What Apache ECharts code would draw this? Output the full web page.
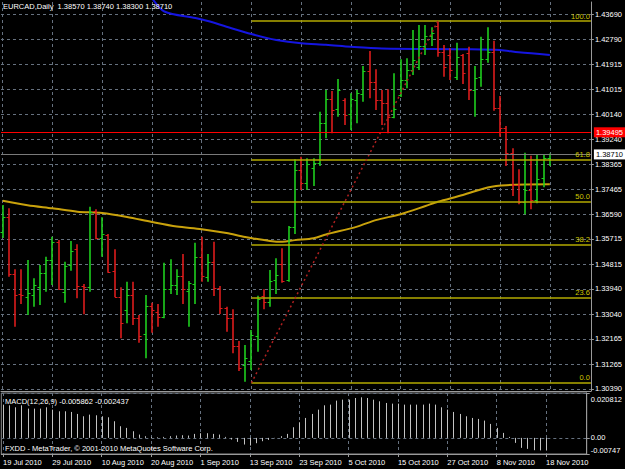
<!DOCTYPE html>
<html>
<head>
<meta charset="utf-8">
<title>EURCAD Daily</title>
<script src="https://cdn.jsdelivr.net/npm/echarts@6/dist/echarts.min.js"></script>
<style>
  html, body { margin: 0; padding: 0; background: #000; }
  #chart { width: 625px; height: 469px; }
</style>
</head>
<body>
<div id="chart"></div>
<script>
// ---- data ----
var symbolName = 'EURCAD,Daily';
var xLabels = ['19 Jul 2010', '29 Jul 2010', '10 Aug 2010', '20 Aug 2010', '1 Sep 2010', '13 Sep 2010',
  '23 Sep 2010', '5 Oct 2010', '15 Oct 2010', '27 Oct 2010', '8 Nov 2010', '18 Nov 2010'];
var xLabelBars = [0, 8, 16, 24, 32, 40, 48, 56, 64, 72, 80, 88];

var priceTicks = [1.30390, 1.31265, 1.32165, 1.33040, 1.33940, 1.34815, 1.35715, 1.36590,
  1.37465, 1.38365, 1.39240, 1.40140, 1.41015, 1.41915, 1.42790, 1.43690];

var opens = [1.35958, 1.36501, 1.34469, 1.33759, 1.33664, 1.33724, 1.34018, 1.34493, 1.34965, 1.35593,
  1.33841, 1.34788, 1.35345, 1.34043, 1.34018, 1.36720, 1.35735, 1.35852, 1.34586, 1.33664,
  1.33192, 1.33724, 1.32919, 1.32341, 1.33344, 1.33132, 1.32954, 1.33926, 1.34078, 1.34398,
  1.33866, 1.34114, 1.35061, 1.34373, 1.34905, 1.33983, 1.33252, 1.32897, 1.31926, 1.31241,
  1.31383, 1.32270, 1.33700, 1.33486, 1.34256, 1.34823, 1.34256, 1.36146, 1.38157, 1.37685,
  1.38217, 1.38416, 1.39835, 1.40665, 1.40310, 1.40640, 1.40133, 1.40640, 1.40853, 1.41668,
  1.41278, 1.40640, 1.40533, 1.40048, 1.40817, 1.41349, 1.41704, 1.41800, 1.42555, 1.42910,
  1.43264, 1.42353, 1.42236, 1.41466, 1.42236, 1.42317, 1.40995, 1.41466, 1.42083, 1.42353,
  1.40345, 1.39636, 1.38750, 1.37625, 1.37012, 1.37448, 1.37093, 1.37863, 1.38570];
var highs = [1.36916, 1.36799, 1.34635, 1.34635, 1.34965, 1.34316, 1.34788, 1.35082, 1.35792, 1.35675,
  1.34905, 1.35639, 1.35522, 1.34114, 1.36856, 1.36763, 1.36480, 1.35887, 1.35345, 1.33997,
  1.34196, 1.34196, 1.33014, 1.33724, 1.33451, 1.33405, 1.34869, 1.34990, 1.34635, 1.35178,
  1.34220, 1.35579, 1.35792, 1.35178, 1.35614, 1.34043, 1.33309, 1.33217, 1.32092, 1.31950,
  1.32482, 1.33699, 1.33926, 1.34610, 1.35025, 1.35380, 1.36171, 1.38537, 1.38629, 1.38572,
  1.38572, 1.40225, 1.40995, 1.40959, 1.41385, 1.40700, 1.40878, 1.40995, 1.41846, 1.42378,
  1.41729, 1.40995, 1.41019, 1.41587, 1.42083, 1.42119, 1.43123, 1.43300, 1.43300, 1.43218,
  1.43417, 1.42591, 1.42474, 1.42672, 1.42271, 1.42530, 1.41846, 1.42885, 1.43218, 1.42743,
  1.40782, 1.39718, 1.38927, 1.38182, 1.38771, 1.38664, 1.38689, 1.38689, 1.38740];
var lows = [1.35745, 1.34373, 1.32600, 1.33405, 1.33014, 1.33309, 1.33369, 1.33841, 1.34078, 1.33901,
  1.33451, 1.34586, 1.33607, 1.33039, 1.33841, 1.35699, 1.35082, 1.34515, 1.33642, 1.32188,
  1.32720, 1.32660, 1.32032, 1.31479, 1.32387, 1.32600, 1.32897, 1.33759, 1.33724, 1.33405,
  1.32600, 1.33405, 1.34196, 1.34196, 1.33688, 1.33050, 1.32422, 1.31656, 1.31028, 1.30649,
  1.31064, 1.31713, 1.33217, 1.33309, 1.33759, 1.34160, 1.34196, 1.35887, 1.37448, 1.37448,
  1.37590, 1.38299, 1.39282, 1.39459, 1.40048, 1.39753, 1.39576, 1.39813, 1.40580, 1.40700,
  1.40285, 1.39753, 1.39459, 1.39991, 1.40750, 1.41055, 1.41527, 1.41704, 1.42236, 1.42555,
  1.42176, 1.41466, 1.41349, 1.41349, 1.41207, 1.40640, 1.40048, 1.41112, 1.41963, 1.40260,
  1.39338, 1.38299, 1.37235, 1.36941, 1.36586, 1.36763, 1.36976, 1.37544, 1.38300];
var closes = [1.36490, 1.34469, 1.33724, 1.33724, 1.33784, 1.34078, 1.34493, 1.34965, 1.35593, 1.33937,
  1.34752, 1.35284, 1.34043, 1.34018, 1.36678, 1.35745, 1.35877, 1.34540, 1.33664, 1.32720,
  1.33724, 1.32919, 1.32270, 1.33344, 1.33192, 1.32954, 1.33926, 1.34078, 1.34398, 1.33926,
  1.34139, 1.35061, 1.34398, 1.34905, 1.33983, 1.33273, 1.32897, 1.31926, 1.31124, 1.31489,
  1.32305, 1.33582, 1.33486, 1.34231, 1.34433, 1.34231, 1.36146, 1.38157, 1.37707, 1.38370,
  1.38416, 1.39835, 1.40665, 1.40285, 1.40995, 1.40108, 1.40665, 1.40878, 1.41679, 1.41278,
  1.40640, 1.40533, 1.40048, 1.40321, 1.41349, 1.41704, 1.42059, 1.42555, 1.42910, 1.43016,
  1.42353, 1.41821, 1.41704, 1.42176, 1.41608, 1.40995, 1.41410, 1.42083, 1.42353, 1.40345,
  1.39636, 1.38750, 1.37625, 1.37012, 1.37448, 1.37093, 1.37827, 1.38572, 1.38710];

// moving averages, [bar, price]
var maBlue = [[24, 1.4426], [26, 1.4378], [31, 1.4355], [33, 1.4344], [36, 1.4324], [40, 1.4298],
  [44, 1.4277], [48, 1.4265], [52, 1.4260], [56, 1.4253], [61, 1.4247], [75, 1.4244],
  [80, 1.4241], [83, 1.4233], [88, 1.4224]];
var maGold = [[0, 1.3707], [4, 1.3691], [8, 1.3680], [12, 1.3668], [16, 1.3663], [20, 1.3649],
  [24, 1.3631], [28, 1.3615], [32, 1.3606], [36, 1.3592], [39, 1.3578], [43, 1.3564],
  [45, 1.3561], [47, 1.3567], [50, 1.3574], [52, 1.3587], [57, 1.3615], [60, 1.3638],
  [64, 1.3659], [68, 1.3688], [70, 1.3703], [74, 1.3727], [78, 1.3754], [81, 1.3762], [88, 1.3765]];

var redLevel = 1.39495;
var fibLabels = ['0.0', '23.6', '38.2', '50.0', '61.8', '100.0'];
var fibPrices = [1.30603, 1.33633, 1.35508, 1.37023, 1.38538, 1.43442];
var fibStartBar = 40;
var fibEndBar = 70;

var macdHist = [0.01542, 0.01511, 0.01418, 0.01511, 0.01357, 0.01357, 0.01357, 0.01418, 0.01310, 0.01233,
  0.01233, 0.01203, 0.01110, 0.01002, 0.01079, 0.01048, 0.01002, 0.00956, 0.00771, 0.00540,
  0.00463, 0.00308, 0.00154, 0.00077, 0.00046, 0.00031, 0.00046, 0.00077, 0.00108, 0.00123,
  0.00108, 0.00185, 0.00216, 0.00216, 0.00185, 0.00154, 0.00046, -0.00077, -0.00185, -0.00308,
  -0.00355, -0.00247, -0.00154, -0.00093, -0.00015, 0.00077, 0.00185, 0.00493, 0.00725, 0.00925,
  0.01110, 0.01310, 0.01511, 0.01542, 0.01727, 0.01773, 0.01773, 0.01850, 0.01881, 0.01850,
  0.01773, 0.01696, 0.01619, 0.01588, 0.01588, 0.01542, 0.01542, 0.01542, 0.01542, 0.01588,
  0.01542, 0.01418, 0.01310, 0.01203, 0.01110, 0.01002, 0.00925, 0.00879, 0.00802, 0.00648,
  0.00463, 0.00231, 0.00046, -0.00231, -0.00463, -0.00509, -0.00571, -0.00580, -0.005862];
var macdSignalLast = -0.002437;
var macdTicks = [0.020812, 0, -0.00747];
var macdTickLabels = ['0.020812', '0.00', '-0.00747'];

// ---- chart ----
// svg renderer: the canvas one kept dropping the left MACD sticks
var chart = echarts.init(document.getElementById('chart'), null, { renderer: 'svg' });

var last = opens.length - 1;
var ohlc = opens.map(function (o, i) { return [i, o, highs[i], lows[i], closes[i]]; });
var macdData = macdHist.map(function (v, i) { return [i, v]; });

var xMin = -0.27, xMax = 94.6;
var gridColor = '#66717f';
var axisColor = '#9a9a9a';
var font = 'Liberation Sans';
var fs = 7.5;

function f5(v) { return v.toFixed(5); }

// OHLC bar: high-low stick, open tick left, close tick right
function renderBar(params, api) {
  var i = api.value(0);
  var o = api.coord([i, api.value(1)]);
  var h = api.coord([i, api.value(2)]);
  var l = api.coord([i, api.value(3)]);
  var c = api.coord([i, api.value(4)]);
  var col = api.value(4) >= api.value(1) ? '#1ecf1e' : '#dc1c1c';
  var x = Math.round(h[0]);
  return {
    type: 'group',
    children: [
      { type: 'line', shape: { x1: x, y1: h[1], x2: x, y2: l[1] }, style: { stroke: col, lineWidth: 1.6 } },
      { type: 'line', shape: { x1: x - 2.5, y1: Math.round(o[1]) + 0.5, x2: x, y2: Math.round(o[1]) + 0.5 }, style: { stroke: col, lineWidth: 1 } },
      { type: 'line', shape: { x1: x, y1: Math.round(c[1]) + 0.5, x2: x + 2.5, y2: Math.round(c[1]) + 0.5 }, style: { stroke: col, lineWidth: 1 } }
    ]
  };
}

// MACD histogram stick from zero to value
function renderHist(params, api) {
  var i = api.value(0);
  var z = api.coord([i, 0]);
  var v = api.coord([i, api.value(1)]);
  var x = Math.round(z[0]) + 0.5;
  return { type: 'line', shape: { x1: x, y1: z[1], x2: x, y2: v[1] },
    style: { stroke: '#c4c4c4', fill: null, lineWidth: 1 } };
}

function textEl(str, left, top) {
  return { type: 'text', left: left, top: top, z: 100, silent: true,
    style: { text: str, fill: '#ffffff', fontSize: fs, fontFamily: font } };
}

var option = {
  backgroundColor: '#000000',
  animation: false,
  graphic: [
    textEl(symbolName + '  ' + [opens[last], highs[last], lows[last], closes[last]].map(f5).join(' '), 3, 2),
    textEl('MACD(12,26,9) ' + macdHist[last].toFixed(6) + ' ' + macdSignalLast.toFixed(6), 5, 397),
    textEl('FXDD - MetaTrader, © 2001-2010 MetaQuotes Software Corp.', 5, 444)
  ],
  grid: [
    { left: 1, right: 31, top: 2, height: 389 },
    { left: 1, right: 31, top: 393, height: 61, show: true, borderColor: '#8a8a8a', borderWidth: 1 }
  ],
  xAxis: [
    { gridIndex: 0, type: 'value', min: xMin, max: xMax,
      axisLine: { show: true, onZero: false, lineStyle: { color: axisColor } },
      axisTick: { show: false, customValues: xLabelBars },
      axisLabel: { show: false, customValues: xLabelBars },
      splitLine: { show: true, lineStyle: { color: gridColor, type: [3, 3], width: 1 } } },
    { gridIndex: 1, type: 'value', min: xMin, max: xMax,
      axisLine: { show: true, onZero: false, lineStyle: { color: axisColor } },
      axisTick: { show: true, length: 3, customValues: xLabelBars, lineStyle: { color: axisColor } },
      axisLabel: { show: true, customValues: xLabelBars, align: 'left', margin: 4,
        color: '#ffffff', fontSize: fs, fontFamily: font,
        formatter: function (v) { var k = xLabelBars.indexOf(Math.round(v)); return k < 0 ? '' : xLabels[k]; } },
      splitLine: { show: true, lineStyle: { color: gridColor, type: [3, 3], width: 1 } } }
  ],
  yAxis: [
    { gridIndex: 0, type: 'value', position: 'right', min: 1.30319, max: 1.44116, scale: true,
      axisLine: { show: true, onZero: false, lineStyle: { color: axisColor } },
      axisTick: { show: true, length: 3, customValues: priceTicks, lineStyle: { color: axisColor } },
      axisLabel: { customValues: priceTicks, formatter: f5, margin: 4,
        color: '#ffffff', fontSize: fs, fontFamily: font },
      splitLine: { show: true, lineStyle: { color: gridColor, type: [3, 3], width: 1 } } },
    { gridIndex: 1, type: 'value', position: 'right', min: -0.00747, max: 0.020812,
      axisLine: { show: true, onZero: false, lineStyle: { color: axisColor } },
      axisTick: { show: true, length: 3, customValues: macdTicks, lineStyle: { color: axisColor } },
      axisLabel: { customValues: macdTicks, margin: 4, color: '#ffffff', fontSize: fs, fontFamily: font,
        formatter: function (v) {
          var i = 0, best = Infinity;
          macdTicks.forEach(function (t, k) { if (Math.abs(t - v) < best) { best = Math.abs(t - v); i = k; } });
          return '{' + ['t', 'm', 'b'][i] + '|' + macdTickLabels[i] + '}';
        },
        rich: { t: { padding: [12, 0, 0, 0] }, m: {}, b: { padding: [0, 0, 8, 0] } } },
      splitLine: { show: true, lineStyle: { color: gridColor, type: [3, 3], width: 1 } } }
  ],
  series: [
    { name: 'MA gold', type: 'line', xAxisIndex: 0, yAxisIndex: 0, data: maGold,
      symbol: 'none', smooth: 0.3, z: 2,
      lineStyle: { color: '#c9a20c', width: 2 },
      markLine: {
        symbol: 'none', silent: true,
        label: { position: 'insideEndTop', distance: 1, color: '#cfc600', fontSize: fs, fontFamily: font,
          formatter: function (p) { return fibLabels[p.dataIndex]; } },
        lineStyle: { color: '#b3aa00', width: 1.5, type: 'solid' },
        data: fibPrices.map(function (p) { return [{ coord: [fibStartBar, p] }, { coord: [xMax, p] }]; })
      } },
    { name: 'MA blue', type: 'line', xAxisIndex: 0, yAxisIndex: 0, data: maBlue,
      symbol: 'none', smooth: 0.3, z: 2, clip: false,
      lineStyle: { color: '#1515e0', width: 2 },
      markLine: {
        symbol: 'none', silent: true,
        data: [
          [{ coord: [fibStartBar, fibPrices[0]],
             lineStyle: { color: '#b02020', width: 1.5, type: [2, 3] }, label: { show: false } },
           { coord: [fibEndBar, fibPrices[fibPrices.length - 1]] }],
          [{ coord: [xMin, redLevel], lineStyle: { color: '#ff0000', width: 1, type: 'solid' },
             label: { show: true, position: 'end', distance: 3, formatter: f5(redLevel), color: '#ffffff',
               backgroundColor: '#ff0000', padding: [1, 2, 1, 2], fontSize: fs, fontFamily: font } },
           { coord: [xMax, redLevel] }],
          [{ coord: [xMin, closes[last]], lineStyle: { color: '#7a7a7a', width: 1, type: 'solid' },
             label: { show: true, position: 'end', distance: 3, formatter: f5(closes[last]), color: '#000000',
               backgroundColor: '#ffffff', padding: [1, 2, 1, 2], fontSize: fs, fontFamily: font } },
           { coord: [xMax, closes[last]] }]
        ]
      } },
    { name: 'EURCAD', type: 'custom', xAxisIndex: 0, yAxisIndex: 0, data: ohlc,
      renderItem: renderBar, clip: false, z: 3,
      encode: { x: 0, y: [1, 2, 3, 4] } },
    { name: 'MACD', type: 'custom', xAxisIndex: 1, yAxisIndex: 1, data: macdData,
      renderItem: renderHist, encode: { x: 0, y: 1 }, z: 3 }
  ]
};
chart.setOption(option);
</script>
</body>
</html>
